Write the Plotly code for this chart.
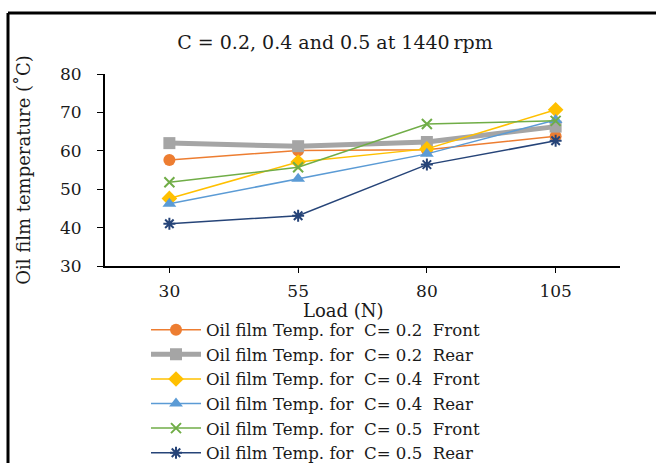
import plotly.graph_objects as go

loads = ["30", "55", "80", "105"]
c02_front = [57.6, 60.1, 60.3, 63.8]
c02_rear = [62.0, 61.2, 62.3, 66.3]
c04_front = [47.6, 57.1, 60.5, 70.7]
c04_rear = [46.2, 52.7, 59.2, 68.0]
c05_front = [51.8, 55.7, 67.0, 67.8]
c05_rear = [41.0, 43.1, 56.4, 62.6]

names = [
    "Oil film Temp. for\u00a0 C= 0.2\u00a0 Front",
    "Oil film Temp. for\u00a0 C= 0.2\u00a0 Rear",
    "Oil film Temp. for\u00a0 C= 0.4\u00a0 Front",
    "Oil film Temp. for\u00a0 C= 0.4\u00a0 Rear",
    "Oil film Temp. for\u00a0 C= 0.5\u00a0 Front",
    "Oil film Temp. for\u00a0 C= 0.5\u00a0 Rear",
]
series = [c02_front, c02_rear, c04_front, c04_rear, c05_front, c05_rear]
colors = ["#ED7D31", "#A5A5A5", "#FFC000", "#5B9BD5", "#70AD47", "#264478"]
symbols = ["circle", "square", "diamond", "triangle-up", "x-thin", "asterisk"]
widths = [1.5, 5, 1.5, 1.5, 1.5, 1.5]
sizes = [12, 12, 12, 12, 10, 10]

fig = go.Figure()
for n, s, c, sym, w, sz in zip(names, series, colors, symbols, widths, sizes):
    mk = dict(symbol=sym, size=sz, color=c)
    if sym in ("x-thin", "asterisk"):
        mk["line"] = dict(color=c, width=2)
    fig.add_trace(go.Scatter(x=loads, y=s, name=n, mode="lines+markers",
                             line=dict(color=c, width=w), marker=mk))

font = "DejaVu Serif, Liberation Serif, serif"
L, R, T, B = 105, 36, 74, 197
W, H = 656, 463
pw, ph = W - L - R, H - T - B
bx = (8 - L) / pw
by = 1 + (T - 13) / ph
fig.update_layout(
    width=W, height=H,
    margin=dict(l=L, r=R, t=T, b=B, autoexpand=False),
    paper_bgcolor="white", plot_bgcolor="white",
    font=dict(family=font, color="#1a1a1a", size=17),
    title=dict(text="C = 0.2, 0.4 and 0.5 at 1440\u2009rpm", x=(335 - L) / pw, xref="paper",
               xanchor="center", y=1 - 42 / H, yanchor="middle",
               font=dict(family=font, size=19, color="#1a1a1a")),
    xaxis=dict(type="category", range=[-0.5, 3.5], showline=True, linecolor="black", linewidth=2,
               ticks="outside", ticklen=5, tickcolor="black", showgrid=False,
               ticklabelstandoff=4, tickfont=dict(size=17)),
    yaxis=dict(range=[30, 80], dtick=10, showline=True, linecolor="black", linewidth=2,
               ticks="outside", ticklen=6, tickcolor="black", showgrid=False, zeroline=False,
               ticklabelstandoff=12,
               title=dict(text="Oil film temperature (\u02daC)", font=dict(size=18), standoff=25),
               tickfont=dict(size=17)),
    legend=dict(x=(146 - L) / pw, y=(266 - 312.5) / ph, xanchor="left", yanchor="top",
                font=dict(size=16.6, family=font), bgcolor="rgba(0,0,0,0)",
                itemwidth=50, tracegroupgap=0),
    showlegend=True,
    annotations=[
        dict(text="Load (N)", xref="paper", yref="paper", x=(343 - L) / pw,
             y=(266 - 310) / ph, xanchor="center", yanchor="middle", showarrow=False,
             font=dict(size=18, family=font, color="#1a1a1a")),
    ],
    shapes=[
        dict(type="line", xref="paper", yref="paper", x0=bx, x1=bx, y0=-2, y1=by,
             line=dict(color="black", width=3)),
        dict(type="line", xref="paper", yref="paper", x0=bx, x1=2, y0=by, y1=by,
             line=dict(color="black", width=3)),
    ],
)
fig.write_html("out.html")
